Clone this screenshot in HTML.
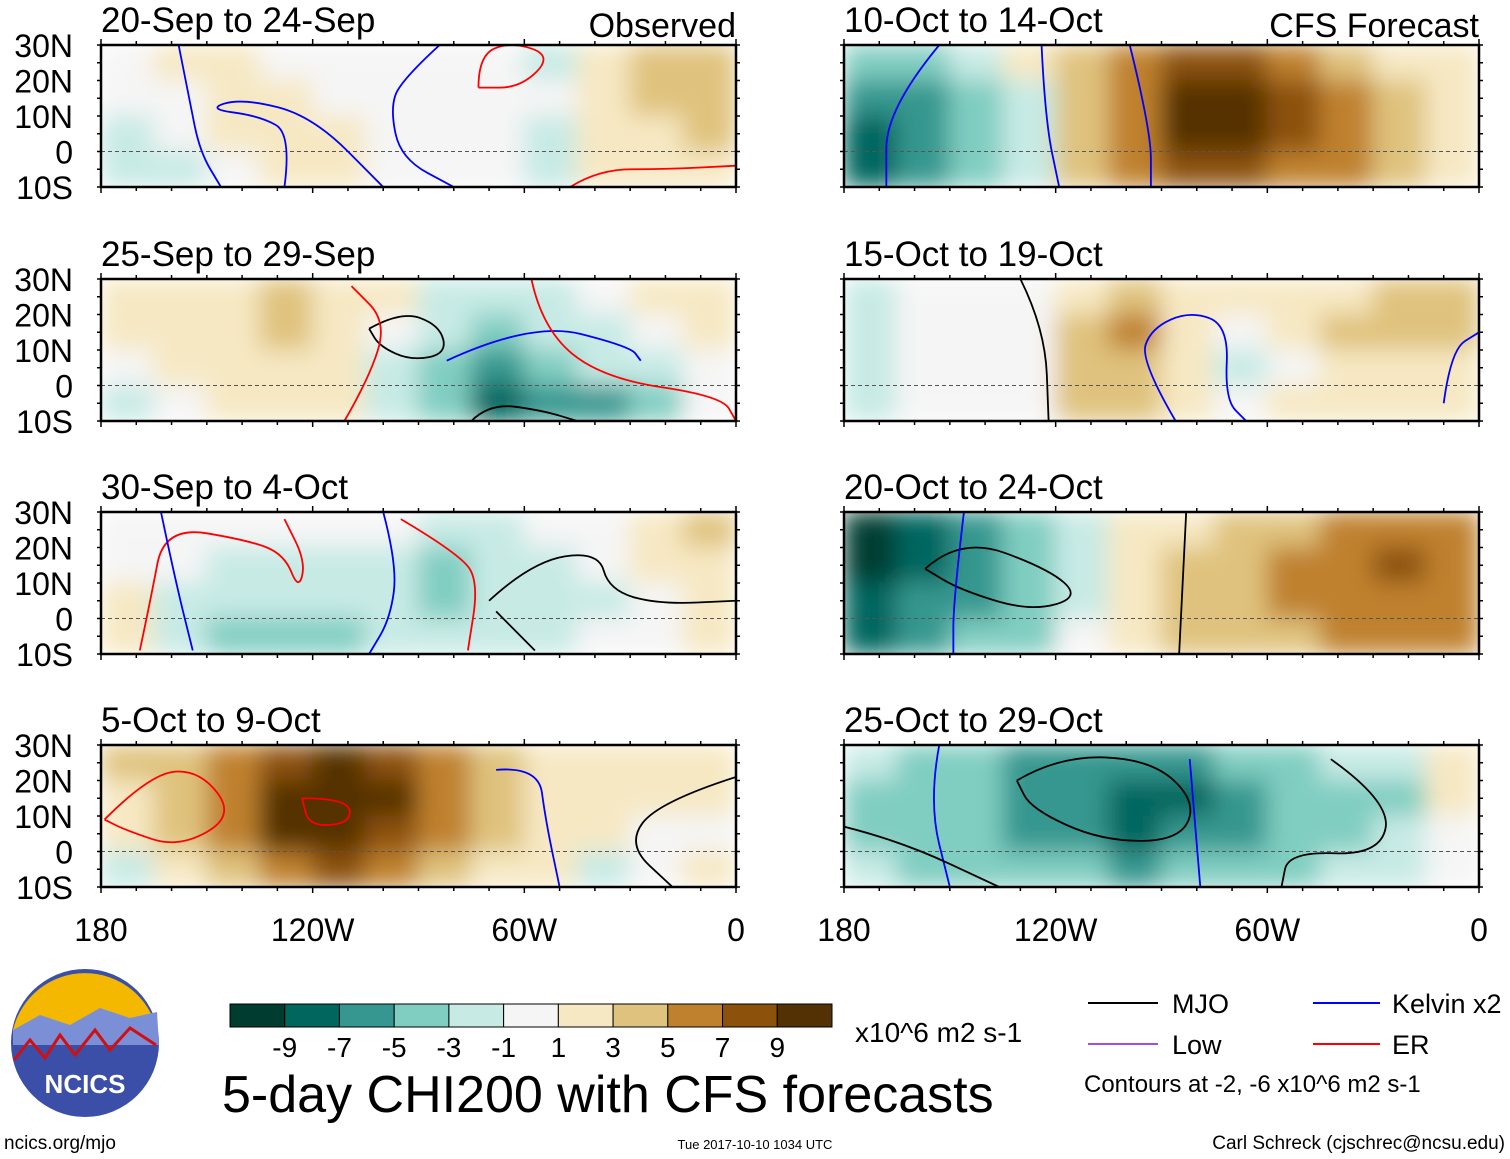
<!DOCTYPE html>
<html><head><meta charset="utf-8">
<style>
body{margin:0;background:#fff;font-family:"Liberation Sans",sans-serif;}
svg{display:block}
text{font-family:"Liberation Sans",sans-serif;fill:#000}
</style></head>
<body>
<svg id="chart" width="1510" height="1159" viewBox="0 0 1510 1159">
<defs>
<filter id="blur" x="0" y="0" width="1" height="1"><feGaussianBlur stdDeviation="12" edgeMode="duplicate"/></filter>
</defs>
<g id="panels"></g>
<g id="colorbar"></g>
<text x="855" y="1042" font-size="28">x10^6 m2 s-1</text>
<text x="222" y="1112" font-size="52">5-day CHI200 with CFS forecasts</text>
<g>
<line x1="1088" y1="1003" x2="1158" y2="1003" stroke="#000" stroke-width="2"/>
<text x="1172" y="1013" font-size="27">MJO</text>
<line x1="1313" y1="1003" x2="1380" y2="1003" stroke="#0000ff" stroke-width="2"/>
<text x="1392" y="1013" font-size="27">Kelvin x2</text>
<line x1="1088" y1="1044" x2="1158" y2="1044" stroke="#a050e0" stroke-width="2"/>
<text x="1172" y="1054" font-size="27">Low</text>
<line x1="1313" y1="1044" x2="1380" y2="1044" stroke="#ff0000" stroke-width="2"/>
<text x="1392" y="1054" font-size="27">ER</text>
<text x="1084" y="1092" font-size="24">Contours at -2, -6 x10^6 m2 s-1</text>
</g>
<g>
<circle cx="85" cy="1043" r="74" fill="#3b4fa8"/>
<path d="M13,1030 A74,74 0 0 1 157,1030 Z" fill="#f5b800"/>
<path d="M13,1030 L40,1015 L70,1025 L100,1008 L130,1018 L157,1012 L159,1045 L13,1045 Z" fill="#7b8fd6"/>
<path d="M14,1060 L30,1040 L45,1058 L60,1035 L75,1055 L95,1030 L110,1050 L130,1028 L156,1045" fill="none" stroke="#d01010" stroke-width="3"/>
<text x="85" y="1093" font-size="26" font-weight="bold" text-anchor="middle" style="fill:#fff">NCICS</text>
</g>
<text x="4" y="1149" font-size="19">ncics.org/mjo</text>
<text x="755" y="1149" font-size="13" text-anchor="middle">Tue 2017-10-10 1034 UTC</text>
<text x="1505" y="1149" font-size="19" text-anchor="end">Carl Schreck (cjschrec@ncsu.edu)</text>
</svg>
<script>
const colors=["#003c30","#01665e","#35978f","#80cdc1","#c7eae5","#f5f5f5","#f6e8c3","#dfc27d","#bf812d","#8c510a","#543005"];
const levels=[-9,-7,-5,-3,-1,1,3,5,7,9];
const panelTitles=["20-Sep to 24-Sep","25-Sep to 29-Sep","30-Sep to 4-Oct","5-Oct to 9-Oct","10-Oct to 14-Oct","15-Oct to 19-Oct","20-Oct to 24-Oct","25-Oct to 29-Oct"];
const latLabels=["30N","20N","10N","0","10S"];
const lonLabels=["180","120W","60W","0"];
const p1=[[0,1,1,0,0,0,0,0,-1,1,3,3],[0,0,1,1,0,0,0,0,0,1,3,3],[-1,0,1,1,2,0,0,0,-1,1,2,3],[-2,-1,0,1,1,0,0,0,-1,1,1,2]];
const p2=[[1,1,2,3,2,1,-1,-2,-1,0,1,1],[1,1,2,3,2,0,-2,-3,-2,-1,0,1],[0,1,1,2,1,-1,-3,-5,-4,-2,-1,0],[-1,0,1,1,1,-1,-3,-7,-6,-5,-3,0]];
const p3=[[0,0,0,0,0,0,-2,-2,0,0,1,3],[0,0,-1,-1,-1,-2,-3,-2,-1,0,1,2],[1,-1,-2,-2,-2,-2,-3,-2,-1,-1,0,1],[1,-1,-3,-4,-3,-2,-1,-1,-1,0,0,1]];
const p4=[[3,3,5,7,9,7,5,3,1,1,1,1],[1,3,5,9,10,9,5,3,1,1,1,1],[1,3,5,9,10,7,5,3,1,1,0,0],[-1,1,3,5,7,5,3,1,1,-1,0,1]];
const p5=[[-3,-3,-1,1,3,5,7,7,5,3,1,1],[-5,-5,-3,-1,3,5,9,10,7,5,3,1],[-7,-5,-3,-1,3,5,9,9,7,5,3,1],[-7,-5,-3,-1,3,5,7,7,5,5,3,1]];
const p6=[[-2,0,0,0,1,3,1,1,1,1,3,3],[-2,0,0,0,3,5,1,0,1,3,3,3],[-1,0,0,0,3,3,1,-1,0,1,1,1],[-1,0,0,0,3,3,1,0,1,1,1,1]];
const p7=[[-9,-7,-5,-3,-1,1,1,3,3,5,5,5],[-9,-7,-5,-3,-1,1,3,3,5,5,7,5],[-7,-5,-5,-3,-1,1,3,3,5,5,5,5],[-7,-5,-3,-3,0,1,3,3,3,5,5,5]];
const p8=[[-1,-3,-3,-5,-5,-5,-5,-3,-3,-1,-1,1],[-3,-3,-3,-5,-5,-7,-7,-5,-3,-3,-3,1],[-3,-3,-3,-5,-5,-7,-5,-5,-3,-3,-1,0],[-1,-3,-3,-3,-3,-5,-3,-3,-3,-1,-1,0]];
const panelData=[p1,p2,p3,p4,p5,p6,p7,p8];
// contours: [panelIndex, type, closed, [[lonW,lat],...]]
const contours=[
[0,'K',0,[[158,30],[155,15],[152,0],[146,-10]]],
[0,'K',0,[[84,30],[95,20],[98,12],[95,-2],[80,-10]]],
[0,'K',0,[[128,-10],[126,5],[135,10],[150,12],[140,15],[120,10],[100,-10]]],
[0,'E',1,[[73,18],[73,27],[64,31],[52,27],[61,18]]],
[0,'E',0,[[47,-10],[39,-5],[20,-5],[0,-4]]],
[1,'M',1,[[104,16],[95,21],[84,17],[82,9],[92,7],[101,11]]],
[1,'E',0,[[111,-10],[104,2],[99,18],[109,28]]],
[1,'K',0,[[82,7],[58,18],[30,11],[27,7]]],
[1,'E',0,[[58,30],[55,16],[38,2],[4,-3],[0,-10]]],
[1,'M',0,[[75,-10],[70,-5],[55,-7],[45,-10]]],
[2,'E',0,[[169,-9],[166,5],[162,26],[138,22],[128,18],[124,8],[122,16],[128,28]]],
[2,'K',0,[[163,30],[159,11],[154,-9]]],
[2,'M',0,[[70,5],[58,16],[39,19],[36,8],[22,4],[0,5]]],
[2,'M',0,[[68,2],[57,-9]]],
[2,'E',0,[[95,28],[78,18],[73,10],[76,-9]]],
[2,'K',0,[[100,30],[96,15],[98,0],[104,-10]]],
[3,'E',1,[[179,9],[166,22],[152,23],[142,10],[158,1],[173,6]]],
[3,'E',1,[[123,15],[110,15],[109,8],[121,7]]],
[3,'K',0,[[68,23],[56,24],[54,9],[50,-10]]],
[3,'M',0,[[0,21],[22,14],[31,2],[18,-10]]],
[4,'K',0,[[153,30],[168,12],[168,-10]]],
[4,'K',0,[[124,30],[123,9],[119,-10]]],
[4,'K',0,[[99,30],[93,6],[93,-10]]],
[5,'M',0,[[130,30],[123,16],[122,-10]]],
[5,'K',0,[[86,-10],[96,7],[93,16],[82,21],[71,17],[72,-4],[66,-10]]],
[5,'K',0,[[10,-5],[8,10],[0,15]]],
[6,'M',1,[[157,14],[147,23],[122,14],[113,6],[127,2],[147,8]]],
[6,'K',0,[[146,30],[149,5],[149,-10]]],
[6,'M',0,[[83,30],[85,-10]]],
[7,'M',1,[[131,20],[119,27],[93,26],[80,14],[85,3],[107,3],[127,12]]],
[7,'K',0,[[153,30],[156,14],[150,-10]]],
[7,'K',0,[[82,26],[79,-10]]],
[7,'M',0,[[180,7],[164,3],[136,-10]]],
[7,'M',0,[[42,26],[25,14],[28,-1],[54,0],[56,-10]]]
];
const typeColor={K:'#0000ff',E:'#ff0000',M:'#000000'};
const NS="http://www.w3.org/2000/svg";
function mk(t,a,p){const e=document.createElementNS(NS,t);for(const k in a)e.setAttribute(k,a[k]);p.appendChild(e);return e;}
function colorFor(v){const w=v>0?v+0.5:(v<0?v-0.5:v);let i=0;while(i<levels.length&&w>levels[i])i++;return colors[i];}
const colX=[101,844],rowY=[45,279,512,745],PW=635,PH=142;
function xS(lon,x0){return x0+(180-lon)/180*PW;}
function yS(lat,y0){return y0+(30-lat)/40*PH;}
function smooth(pts,closed){
  if(closed)pts=pts.concat([pts[0]]);
  let d='M'+pts[0][0]+','+pts[0][1];
  for(let i=1;i<pts.length-1;i++){const mx=(pts[i][0]+pts[i+1][0])/2,my=(pts[i][1]+pts[i+1][1])/2;d+=' Q'+pts[i][0]+','+pts[i][1]+' '+mx+','+my;}
  const l=pts[pts.length-1];d+=' L'+l[0]+','+l[1];return d;}
const root=document.getElementById('panels');
const panelGroups=[];
panelData.forEach((grid,pi)=>{
  const x0=colX[pi<4?0:1],y0=rowY[pi%4];
  const g=mk('g',{},root);
  
  
  const clip=mk('clipPath',{id:'c'+pi},g);
  mk('rect',{x:x0,y:y0,width:PW,height:PH},clip);
  const cg=mk('g',{'clip-path':'url(#c'+pi+')'},g);
  const fg=mk('g',{filter:'url(#blur)'},cg);
  grid.forEach((row,r)=>row.forEach((v,c)=>{
    const lonL=180-c*15,lat=30-r*10;
    const cell=mk('rect',{x:xS(lonL,x0)-0.5,y:yS(lat,y0)-0.5,width:PW/12+1,height:PH/4+1,fill:colorFor(v)},fg);
    
    
  }));
  mk('line',{x1:x0,x2:x0+PW,y1:yS(0,y0),y2:yS(0,y0),stroke:'#555','stroke-dasharray':'4,3','stroke-width':1},cg);
  panelGroups.push({cg,x0,y0});
  mk('rect',{x:x0,y:y0,width:PW,height:PH,fill:'none',stroke:'#000','stroke-width':2.5},g);
  for(let lon=0;lon<=180;lon+=10){const x=xS(lon,x0),big=lon%60==0;
    mk('line',{x1:x,x2:x,y1:y0+PH,y2:y0+PH+(big?6:4),stroke:'#000','stroke-width':1.5},g);
    mk('line',{x1:x,x2:x,y1:y0,y2:y0-(big?6:4),stroke:'#000','stroke-width':1.5},g);}
  for(let lat=-10;lat<=30;lat+=5){const y=yS(lat,y0);
    mk('line',{x1:x0,x2:x0-4,y1:y,y2:y,stroke:'#000','stroke-width':1.5},g);
    mk('line',{x1:x0+PW,x2:x0+PW+4,y1:y,y2:y,stroke:'#000','stroke-width':1.5},g);}
  const t=mk('text',{x:x0,y:y0-13,'font-size':35},g);t.textContent=panelTitles[pi];
  
  if(pi<4){latLabels.forEach((l,i)=>{const tt=mk('text',{x:73,y:y0+i*PH/4+12,'font-size':32,'text-anchor':'end'},g);tt.textContent=l;
    });}
  if(pi%4==3){lonLabels.forEach((l,i)=>{const tt=mk('text',{x:x0+i*PW/3,y:941,'font-size':32,'text-anchor':'middle'},g);tt.textContent=l;
    });}
  if(pi==0||pi==4){const tt=mk('text',{x:x0+PW,y:y0-8,'font-size':34,'text-anchor':'end'},g);tt.textContent=pi==0?'Observed':'CFS Forecast';
    }
});
contours.forEach(c=>{
  const P=panelGroups[c[0]];
  const pts=c[3].map(p=>[xS(p[0],P.x0),yS(p[1],P.y0)]);
  const path=mk('path',{d:smooth(pts,c[2]),fill:'none',stroke:typeColor[c[1]],'stroke-width':1.8},P.cg);
  
  
});
const cb=document.getElementById('colorbar'),bx=230,bw=602/11;
colors.forEach((c,i)=>{const r=mk('rect',{x:bx+i*bw,y:1004,width:bw,height:23,fill:c,stroke:'#000','stroke-width':1},cb);
  });
levels.forEach((l,i)=>{const t=mk('text',{x:bx+(i+1)*bw,y:1057,'font-size':28,'text-anchor':'middle'},cb);t.textContent=l;
  });
</script>
</body></html>
